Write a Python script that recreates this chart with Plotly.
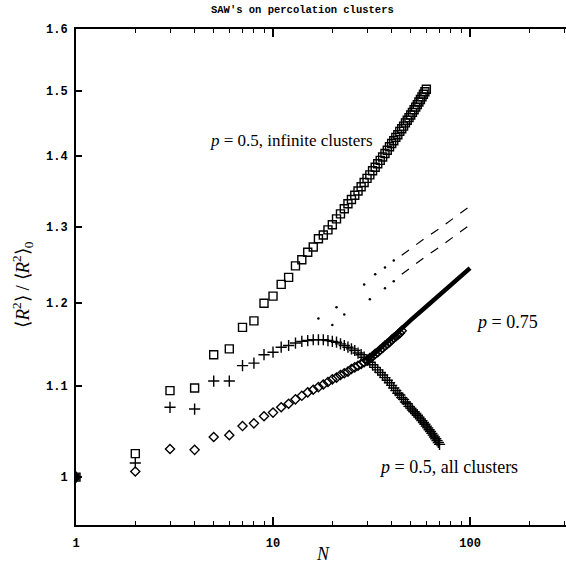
import plotly.graph_objects as go

# ---------------- data ----------------
N_inf = list(range(1, 61))
R_inf = [1.000, 1.025, 1.095, 1.098, 1.137, 1.144, 1.170, 1.178, 1.200, 1.209,
         1.224, 1.233, 1.248, 1.256, 1.266, 1.273, 1.284, 1.289, 1.296, 1.303,
         1.311, 1.318, 1.325, 1.332, 1.338, 1.344, 1.350, 1.356, 1.362, 1.368,
         1.373, 1.379, 1.384, 1.389, 1.394, 1.399, 1.404, 1.409, 1.414, 1.419,
         1.423, 1.428, 1.432, 1.437, 1.441, 1.445, 1.450, 1.454, 1.458, 1.462,
         1.466, 1.470, 1.474, 1.478, 1.482, 1.486, 1.490, 1.494, 1.498, 1.502]

N_all = list(range(1, 71))
R_all = [1.000, 1.015, 1.076, 1.074, 1.106, 1.106, 1.124, 1.127, 1.137, 1.140,
         1.146, 1.148, 1.151, 1.153, 1.154, 1.155, 1.155, 1.155, 1.154, 1.153,
         1.152, 1.150, 1.148, 1.146, 1.144, 1.142, 1.139, 1.137, 1.134, 1.131,
         1.128, 1.125, 1.122, 1.119, 1.116, 1.113, 1.110, 1.107, 1.104, 1.101,
         1.098, 1.095, 1.092, 1.090, 1.087, 1.085, 1.082, 1.080, 1.077, 1.075,
         1.073, 1.071, 1.069, 1.067, 1.065, 1.063, 1.061, 1.059, 1.057, 1.055,
         1.053, 1.051, 1.049, 1.047, 1.045, 1.043, 1.041, 1.039, 1.037, 1.035]

N_075 = list(range(1, 46))
R_075 = [1.000, 1.006, 1.030, 1.029, 1.043, 1.045, 1.055, 1.058, 1.066, 1.070,
         1.076, 1.080, 1.085, 1.089, 1.093, 1.096, 1.099, 1.102, 1.105, 1.108,
         1.110, 1.113, 1.115, 1.117, 1.120, 1.122, 1.124, 1.126, 1.128, 1.130,
         1.133, 1.135, 1.138, 1.140, 1.143, 1.145, 1.148, 1.150, 1.152, 1.155,
         1.157, 1.159, 1.161, 1.163, 1.166]

N_075_line = [30, 35, 40, 45, 50, 60, 70, 80, 90, 100]
R_075_line = [1.130, 1.145, 1.157, 1.168, 1.179, 1.196, 1.211, 1.224, 1.235, 1.245]

N_up_dots = [17, 21, 29, 33, 37, 41]
R_up_dots = [1.181, 1.195, 1.224, 1.237, 1.246, 1.255]
N_up_line = [45, 50, 60, 70, 80, 90, 97]
R_up_line = [1.262, 1.271, 1.286, 1.298, 1.309, 1.319, 1.326]

N_lo_dots = [20, 23, 31, 37, 41]
R_lo_dots = [1.173, 1.186, 1.205, 1.219, 1.228]
N_lo_line = [45, 50, 60, 70, 80, 90, 100]
R_lo_line = [1.237, 1.246, 1.261, 1.273, 1.284, 1.294, 1.303]

y_ticks = [1.0, 1.1, 1.2, 1.3, 1.4, 1.5, 1.6]
y_ticktext = ["1", "1.1", "1.2", "1.3", "1.4", "1.5", "1.6"]
x_ticks = [1, 10, 100]
x_ticktext = ["1", "10", "100"]
x_minor = [2, 3, 4, 5, 6, 7, 8, 9, 20, 30, 40, 50, 60, 70, 80, 90, 200, 300]

# ---------------- figure ----------------
fig = go.Figure()
blk = "black"

fig.add_trace(go.Scatter(x=N_075_line, y=R_075_line, mode="lines",
                         line=dict(color=blk, width=4.5)))
fig.add_trace(go.Scatter(x=N_up_line, y=R_up_line, mode="lines",
                         line=dict(color=blk, width=1.2, dash="dash")))
fig.add_trace(go.Scatter(x=N_lo_line, y=R_lo_line, mode="lines",
                         line=dict(color=blk, width=1.2, dash="dash")))
fig.add_trace(go.Scatter(x=N_up_dots, y=R_up_dots, mode="markers",
                         marker=dict(symbol="circle", size=2.5, color=blk)))
fig.add_trace(go.Scatter(x=N_lo_dots, y=R_lo_dots, mode="markers",
                         marker=dict(symbol="circle", size=2.5, color=blk)))

fig.add_trace(go.Scatter(x=N_inf, y=R_inf, mode="markers",
                         marker=dict(symbol="square-open", size=8,
                                     color=blk, line=dict(width=1.4, color=blk))))
fig.add_trace(go.Scatter(x=N_all, y=R_all, mode="markers",
                         marker=dict(symbol="cross-thin-open", size=8,
                                     color=blk, line=dict(width=1.4, color=blk))))
fig.add_trace(go.Scatter(x=N_075, y=R_075, mode="markers",
                         marker=dict(symbol="diamond-open", size=7,
                                     color=blk, line=dict(width=1.4, color=blk))))
fig.add_trace(go.Scatter(x=[N_inf[0]], y=[R_inf[0]], mode="markers",
                         marker=dict(symbol="square", size=7, color=blk)))

tickfont = dict(family="Liberation Mono", size=12, color=blk, weight="bold")

fig.update_layout(
    width=566, height=572,
    margin=dict(l=76, r=0, t=29, b=47),
    plot_bgcolor="white", paper_bgcolor="white",
    showlegend=False,
    xaxis=dict(type="log", range=[0, 2.487],
               tickvals=x_ticks, ticktext=x_ticktext,
               ticks="inside", ticklen=8, tickwidth=1.5, tickcolor=blk,
               showline=True, linecolor=blk, linewidth=2, mirror="ticks",
               showgrid=False, zeroline=False, tickfont=tickfont,
               ticklabelstandoff=6,
               minor=dict(tickvals=x_minor, ticks="inside", ticklen=4,
                          tickwidth=1.2, tickcolor=blk, showgrid=False)),
    yaxis=dict(type="log", range=[-0.0218, 0.2041],
               tickvals=y_ticks, ticktext=y_ticktext,
               ticks="inside", ticklen=6, tickwidth=1.5, tickcolor=blk,
               showline=True, linecolor=blk, linewidth=1.8, mirror=False,
               showgrid=False, zeroline=False, tickfont=tickfont,
               ticklabelstandoff=4),
)

serif = "Liberation Serif"


def ann(text, x, y, size, family=serif, xanchor="center", angle=0, weight="normal"):
    fig.add_annotation(text=text, xref="paper", yref="paper", x=x, y=y,
                       xanchor=xanchor, yanchor="middle", textangle=angle,
                       showarrow=False,
                       font=dict(family=family, size=size, color=blk, weight=weight))


ann("SAW's on percolation clusters", 0.463, 1.038, 10.5,
    family="Liberation Mono", weight="bold")
ann("⟨<i>R</i><sup>2</sup>⟩ / ⟨<i>R</i><sup>2</sup>⟩<sub>0</sub>", -0.11, 0.485, 19, angle=-90)
ann("<i>N</i>", 0.505, -0.058, 18)
ann("<i>p</i> = 0.5, infinite clusters", 0.44, 0.775, 17)
ann("<i>p</i> = 0.75", 0.812, 0.41, 18, xanchor="left")
ann("<i>p</i> = 0.5, all clusters", 0.76, 0.117, 18)

fig.write_html("out.html")
